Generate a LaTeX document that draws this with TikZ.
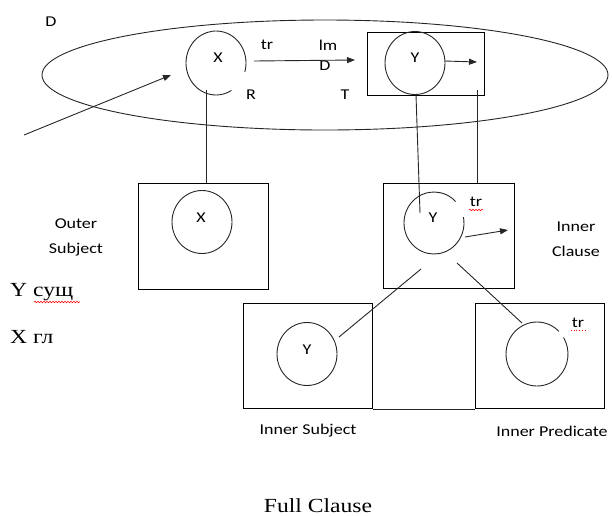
\documentclass[tikz,border=0pt]{standalone}
\usepackage{fontspec}
\setmainfont[FakeStretch=1.18]{Liberation Serif}
\newfontfamily\lbl[FakeStretch=1.2]{Carlito}
\usetikzlibrary{arrows.meta,shapes.geometric,decorations.pathmorphing}
\begin{document}
\begin{tikzpicture}[x=1pt,y=1pt,
  lab/.style={font=\lbl\fontsize{15}{18}\selectfont, inner sep=0},
  big/.style={font=\fontsize{20}{24}\selectfont, inner sep=0},
  ln/.style={line width=0.9pt, black!85},
  arr/.style={ln, -{Triangle[length=8pt,width=6pt]}},
  bx/.style={draw, line width=1pt, rectangle, inner sep=0, anchor=north west},
  circ/.style={ellipse, minimum width=60pt, minimum height=63pt, inner sep=0, line width=0.9pt, black!85},
  spell/.style={red, line width=0.6pt, decorate, decoration={snake, amplitude=0.7pt, segment length=3pt}}]
\useasboundingbox (0,-515) rectangle (612,0);

% big oval
\node[draw, ellipse, minimum width=566pt, minimum height=110pt, inner sep=0, ln] (oval) at (325,-75) {};

% top row
\node[circ] (cx) at (216,-63) {};
\draw[ln] (cx.center) ++(-16:30 and 32) arc[start angle=-16, end angle=301, x radius=30, y radius=32];
\node[bx, minimum width=117pt, minimum height=63pt] (rt) at (367,-32) {};
\node[circ, draw] (cy) at (415,-63) {};

\node[lab] (dl) at (51,-22) {D};
\node[lab] (xl) at (218,-58) {X};
\node[lab] (trl) at (267,-45) {tr};
\node[lab] (lml) at (328,-45) {lm};
\node[lab] (d2l) at (325,-66) {D};
\node[lab] (rl) at (251,-95) {R};
\node[lab] (tl) at (345,-95) {T};
\node[lab] (yl) at (415,-58) {Y};

\coordinate (ain) at (24,-135);
\coordinate (aout) at (171,-75);
\draw[arr] (ain) -- (aout);
\coordinate (trs) at (254,-61);
\coordinate (tre) at (355,-60);
\draw[arr] (trs) -- (tre);
\coordinate (ys) at (445,-61);
\coordinate (ye) at (477,-62);
\draw[arr] (ys) -- (ye);

% middle row
\node[bx, minimum width=130pt, minimum height=106pt] (osb) at (138,-183) {};
\node[circ, draw] (oc) at (202,-222) {};
\node[lab] (ocl) at (201,-218) {X};
\node[lab, align=center, font=\lbl\fontsize{15}{25}\selectfont] (osl) at (76,-237.5) {Outer\\Subject};

\node[bx, minimum width=131pt, minimum height=105pt] (icb) at (383,-183) {};
\node[circ] (ic) at (434,-223) {};
\draw[ln] (ic.center) ++(44:30 and 31) arc[start angle=44, end angle=371, x radius=30, y radius=31];
\node[lab] (icl) at (433,-218) {Y};
\node[lab] (ictr) at (476,-202) {tr};
\draw[spell] (469,-210) -- (483,-210);
\coordinate (ias) at (465,-237);
\coordinate (iae) at (508,-230);
\draw[arr] (ias) -- (iae);
\node[lab, align=center, font=\lbl\fontsize{15}{25}\selectfont] (icl2) at (576,-239) {Inner\\Clause};

% connectors top -> middle
\coordinate (v1a) at (206,-90);
\coordinate (v1b) at (206,-183);
\draw[ln] (v1a) -- (v1b);
\coordinate (v2a) at (416,-95);
\coordinate (v2b) at (420,-213);
\draw[ln] (v2a) -- (v2b);
\coordinate (v3a) at (477,-90);
\coordinate (v3b) at (477,-183);
\draw[ln] (v3a) -- (v3b);

% bottom row
\node[bx, minimum width=129pt, minimum height=105pt] (isb) at (243,-303) {};
\node[circ, draw] (isc) at (307,-354) {};
\node[lab] (iscl) at (307,-350) {Y};
\node[bx, minimum width=129pt, minimum height=105pt] (ipb) at (475,-303) {};
\node[circ, minimum width=62pt, minimum height=64pt] (ipc) at (537,-354) {};
\draw[ln] (ipc.center) ++(45:31 and 32) arc[start angle=45, end angle=391, x radius=31, y radius=32];
\node[lab] (iptr) at (578,-323) {tr};
\draw[red, line width=0.7pt, dotted] (571,-330) -- (586,-330);
\draw[ln] (isb.south east) -- (ipb.south west);

\coordinate (l1a) at (421,-269);
\coordinate (l1b) at (339,-337);
\draw[ln] (l1a) -- (l1b);
\coordinate (l2a) at (457,-263);
\coordinate (l2b) at (522,-323);
\draw[ln] (l2a) -- (l2b);

\node[lab] (isl) at (308,-431) {Inner Subject};
\node[lab] (ipl) at (552,-431) {Inner Predicate};

% left legend
\node[big, anchor=west] (ys1) at (10,-292) {Y сущ};
\draw[spell] (34,-302) -- (80,-302);
\node[big, anchor=west] (xg) at (10,-337) {X гл};

\node[big, anchor=base] (fc) at (318,-512) {Full Clause};
\end{tikzpicture}
\end{document}
